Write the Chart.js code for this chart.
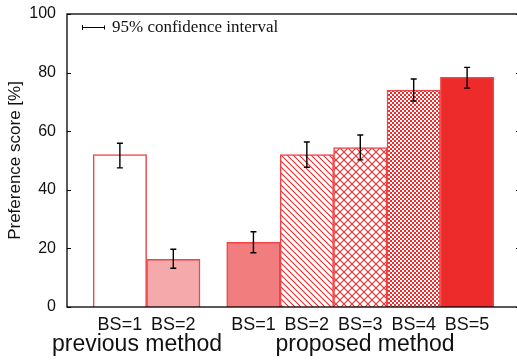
<!DOCTYPE html>
<html>
<head>
<meta charset="utf-8">
<script src="https://cdn.jsdelivr.net/npm/chart.js@4/dist/chart.umd.min.js"></script>
<style>
  html, body { margin: 0; padding: 0; background: #fff; overflow: hidden; }
  #wrap { width: 517px; height: 360px; overflow: hidden; }
</style>
</head>
<body>
<div id="wrap"><canvas id="c" width="524" height="360"></canvas></div>
<script>
// bar positions on the x scale (gap between the two groups)
var positions = [0, 1, 2.5, 3.5, 4.5, 5.5, 6.5];
var barLabels = ['BS=1', 'BS=2', 'BS=1', 'BS=2', 'BS=3', 'BS=4', 'BS=5'];
var scores = [52.0, 16.3, 22.1, 52.0, 54.4, 74.0, 78.4];
var ciLow = [47.5, 13.2, 18.5, 47.7, 50.2, 70.3, 74.7];
var ciHigh = [55.9, 19.7, 25.7, 56.3, 58.7, 77.8, 81.8];
var groupNames = ['previous method', 'proposed method'];
var groupCenters = [0.32, 4.59];
var yTicks = [0, 20, 40, 60, 80, 100];

var RED = '#ee2b2b';
var EDGE = '#f04448';

function makePattern(kind) {
	var c = document.createElement('canvas');
	var ctx = c.getContext('2d');
	var s;
	if (kind === 'diag') {
		s = 6;
		c.width = s; c.height = s;
		ctx.fillStyle = '#fff';
		ctx.fillRect(0, 0, s, s);
		ctx.strokeStyle = RED;
		ctx.lineWidth = 1.1;
		ctx.beginPath();
		ctx.moveTo(-1, -1); ctx.lineTo(s + 1, s + 1);
		ctx.moveTo(-1, s - 1); ctx.lineTo(1, s + 1);
		ctx.moveTo(s - 1, -1); ctx.lineTo(s + 1, 1);
		ctx.stroke();
	} else if (kind === 'cross') {
		s = 8;
		c.width = s; c.height = s;
		ctx.fillStyle = '#fff';
		ctx.fillRect(0, 0, s, s);
		ctx.strokeStyle = RED;
		ctx.lineWidth = 1.1;
		ctx.beginPath();
		ctx.moveTo(-1, -1); ctx.lineTo(s + 1, s + 1);
		ctx.moveTo(s + 1, -1); ctx.lineTo(-1, s + 1);
		ctx.stroke();
	} else {
		s = 4;
		c.width = s; c.height = s;
		ctx.fillStyle = RED;
		ctx.fillRect(0, 0, s, s);
		ctx.fillStyle = '#fff';
		ctx.fillRect(0, 0, 2, 2);
		ctx.fillRect(2, 2, 2, 2);
	}
	return ctx.createPattern(c, 'repeat');
}

var fills = ['#ffffff', '#f5a9ab', '#f27d7f', makePattern('diag'),
	makePattern('cross'), makePattern('checker'), RED];

var frame = {
	id: 'frame',
	afterDatasetsDraw: function(chart) {
		var ctx = chart.ctx;
		var y = chart.scales.y;
		var meta = chart.getDatasetMeta(0);
		ctx.save();
		ctx.strokeStyle = '#000';
		ctx.lineWidth = 1.4;
		meta.data.forEach(function(bar, i) {
			var top = y.getPixelForValue(ciHigh[i]);
			var bot = y.getPixelForValue(ciLow[i]);
			ctx.beginPath();
			ctx.moveTo(bar.x, top); ctx.lineTo(bar.x, bot);
			ctx.moveTo(bar.x - 3, top); ctx.lineTo(bar.x + 3, top);
			ctx.moveTo(bar.x - 3, bot); ctx.lineTo(bar.x + 3, bot);
			ctx.stroke();
		});
		ctx.restore();
	},
	afterDraw: function(chart) {
		var ctx = chart.ctx;
		var a = chart.chartArea;
		var y = chart.scales.y;
		var x = chart.scales.x;
		ctx.save();
		ctx.strokeStyle = '#000';
		ctx.lineWidth = 1.3;
		ctx.strokeRect(a.left, a.top, a.right - a.left, a.bottom - a.top);
		ctx.lineWidth = 1;
		yTicks.forEach(function(v) {
			var py = Math.round(y.getPixelForValue(v)) + 0.5;
			ctx.beginPath();
			ctx.moveTo(a.left, py); ctx.lineTo(a.left + 4, py);
			ctx.moveTo(a.right, py); ctx.lineTo(a.right - 4, py);
			ctx.stroke();
		});
		// group names under the tick labels
		ctx.fillStyle = '#111';
		ctx.font = '23px "Liberation Sans", Arial, sans-serif';
		ctx.textAlign = 'center';
		ctx.textBaseline = 'alphabetic';
		groupNames.forEach(function(name, i) {
			ctx.fillText(name, x.getPixelForValue(groupCenters[i]), 351);
		});
		// key for the error bars
		ctx.beginPath();
		ctx.moveTo(82, 27.5); ctx.lineTo(105, 27.5);
		ctx.moveTo(82.5, 25); ctx.lineTo(82.5, 30);
		ctx.moveTo(104.5, 25.5); ctx.lineTo(104.5, 29.5);
		ctx.stroke();
		ctx.textAlign = 'left';
		ctx.font = '17px "Liberation Serif", "Times New Roman", serif';
		ctx.fillText('95% confidence interval', 112, 32);
		ctx.restore();
	}
};

new Chart(document.getElementById('c'), {
	type: 'bar',
	data: {
		datasets: [{
			data: positions.map(function(p, i) { return { x: p, y: scores[i] }; }),
			backgroundColor: fills,
			borderColor: EDGE,
			borderWidth: 1.5,
			borderSkipped: 'bottom',
			barPercentage: 1,
			categoryPercentage: 1
		}]
	},
	options: {
		responsive: false,
		animation: false,
		devicePixelRatio: 1,
		layout: { padding: { top: 14, right: 4, left: 0, bottom: 0 } },
		plugins: { legend: { display: false }, tooltip: { enabled: false } },
		scales: {
			x: {
				type: 'linear',
				offset: false,
				min: -0.99,
				max: 7.49,
				grid: { display: false, drawTicks: false },
				border: { display: false },
				afterBuildTicks: function(scale) {
					scale.ticks = positions.map(function(p) { return { value: p }; });
				},
				afterFit: function(scale) {
					scale.height = 53;
					scale.paddingLeft = 0;
					scale.paddingRight = 0;
				},
				ticks: {
					autoSkip: false,
					maxRotation: 0,
					padding: 7,
					color: '#111',
					font: { family: '"Liberation Sans", Arial, sans-serif', size: 18 },
					callback: function(value, index) { return barLabels[index]; }
				}
			},
			y: {
				min: 0,
				max: 100,
				grid: { display: false, drawTicks: false },
				border: { display: false },
				afterBuildTicks: function(scale) {
					scale.ticks = yTicks.map(function(v) { return { value: v }; });
				},
				afterFit: function(scale) {
					scale.width = 67;
					scale.paddingTop = 0;
					scale.paddingBottom = 0;
				},
				title: {
					display: true,
					text: 'Preference score [%]',
					color: '#111',
					padding: { top: 5, bottom: 0 },
					font: { family: '"Liberation Sans", Arial, sans-serif', size: 17 }
				},
				ticks: {
					padding: 11,
					color: '#111',
					font: { family: '"Liberation Sans", Arial, sans-serif', size: 16 }
				}
			}
		}
	},
	plugins: [frame]
});
</script>
</body>
</html>
